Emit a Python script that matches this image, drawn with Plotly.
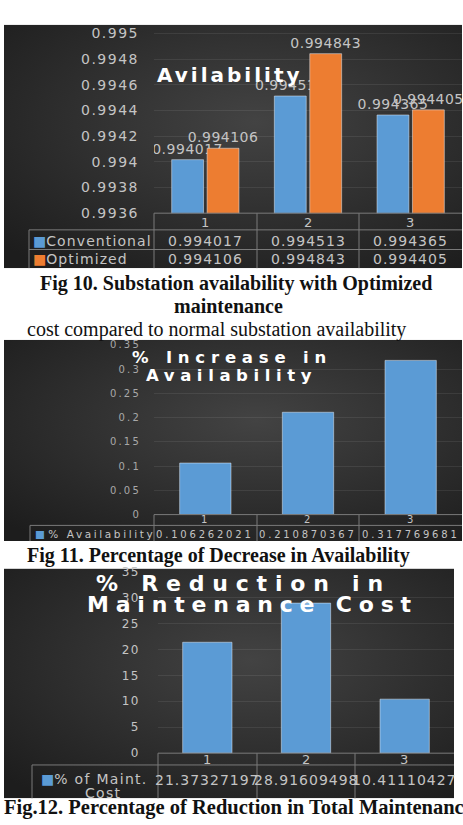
import base64
import plotly.graph_objects as go

W, H = 463, 825

# ---------------- data ----------------
CATEGORIES = ["1", "2", "3"]
SERIES_NAMES = ["Conventional", "Optimized"]
CONVENTIONAL = [0.994017, 0.994513, 0.994365]
OPTIMIZED = [0.994106, 0.994843, 0.994405]
INC_NAME = "% Availability"
AVAIL_INCREASE = [0.106262021, 0.210870367, 0.317769681]
COST_NAME = ["% of Maint.", "Cost"]
COST_REDUCTION = [21.37327197, 28.91609498, 10.41110427]

AVAIL_TICKS = [0.9936, 0.9938, 0.994, 0.9942, 0.9944, 0.9946, 0.9948, 0.995]
AVAIL_TICK_LABELS = ["0.9936", "0.9938", "0.994", "0.9942", "0.9944", "0.9946", "0.9948", "0.995"]
INC_TICKS = [0, 0.05, 0.1, 0.15, 0.2, 0.25, 0.3, 0.35]
INC_TICK_LABELS = ["0", "0.05", "0.1", "0.15", "0.2", "0.25", "0.3", "0.35"]
COST_TICKS = [0, 5, 10, 15, 20, 25, 30, 35]
COST_TICK_LABELS = ["0", "5", "10", "15", "20", "25", "30", "35"]

TITLE_1 = "Avilability"
TITLE_2 = ["% Increase in", "Availability"]
TITLE_3 = ["% Reduction in", "Maintenance Cost"]
CAPTION_10 = ["Fig 10. Substation availability with Optimized", "maintenance"]
BODY_LINE = "cost compared to normal substation availability"
CAPTION_11 = "Fig 11. Percentage of Decrease in Availability"
CAPTION_12 = "Fig.12. Percentage of Reduction in Total Maintenance"

# ---------------- style ----------------
BLUE = "#5b9bd5"
ORANGE = "#ed7d31"
TXT = "#c4c4c4"
TXT2 = "#a8a8a8"
GRID = "rgba(255,255,255,0.08)"
LINE = "#7a7a7a"
SANS = "DejaVu Sans"
SERIF = "Liberation Serif"


def px(x):
    return x / W


def py(y):
    return 1 - y / H


def sp(text, ls):
    return f'<span style="letter-spacing:{ls}px">{text}</span>'


def panel_image(x0, y0, x1, y1):
    svg = ("<svg xmlns='http://www.w3.org/2000/svg' viewBox='0 0 100 100' preserveAspectRatio='none'>"
           "<defs><radialGradient id='g' cx='55%' cy='40%' r='75%'>"
           "<stop offset='0' stop-color='#434343'/><stop offset='1' stop-color='#1d1d1d'/>"
           "</radialGradient></defs><rect width='100' height='100' fill='url(#g)'/></svg>")
    src = "data:image/svg+xml;base64," + base64.b64encode(svg.encode()).decode()
    return dict(source=src, xref="paper", yref="paper", x=px(x0), y=py(y0),
                sizex=(x1 - x0) / W, sizey=(y1 - y0) / H, sizing="stretch",
                xanchor="left", yanchor="top", layer="below")


fig = go.Figure()

# chart 1 bars
fig.add_bar(x=CATEGORIES, y=CONVENTIONAL, name=SERIES_NAMES[0], marker_color=BLUE,
            text=[sp(str(v), 0.5) for v in CONVENTIONAL], textposition="outside",
            textfont=dict(family=SANS, size=14, color=TXT), constraintext="none",
            xaxis="x", yaxis="y")
fig.add_bar(x=CATEGORIES, y=OPTIMIZED, name=SERIES_NAMES[1], marker_color=ORANGE,
            text=[sp(str(v), 0.5) for v in OPTIMIZED], textposition="outside",
            textfont=dict(family=SANS, size=14, color=TXT), constraintext="none",
            xaxis="x", yaxis="y")
# chart 2
fig.add_bar(x=CATEGORIES, y=AVAIL_INCREASE, name=INC_NAME, marker_color=BLUE, width=0.5,
            xaxis="x2", yaxis="y2")
# chart 3
fig.add_bar(x=CATEGORIES, y=COST_REDUCTION, name=" ".join(COST_NAME), marker_color=BLUE, width=0.5,
            xaxis="x3", yaxis="y3")


def xax(l, r, anchor):
    return dict(domain=[px(l), px(r)], anchor=anchor, type="category", range=[-0.5, 2.5],
                showticklabels=False, showgrid=False, zeroline=False, showline=False, ticks="")


def yax(bottom, top, rng, tv, tt, size, color, ls, standoff, anchor):
    return dict(domain=[py(bottom), py(top)], anchor=anchor, range=rng, tickvals=tv,
                ticktext=[sp(t, ls) for t in tt], tickfont=dict(family=SANS, size=size, color=color),
                showgrid=True, gridcolor=GRID, gridwidth=1, zeroline=False, showline=False,
                ticks="", ticklabelstandoff=standoff)


s1 = (210 - 27) / (0.995 - 0.9936)
top1 = 0.99506
fig.update_layout(
    xaxis=xax(154, 462, "y"),
    yaxis=yax(210, 210 - (top1 - 0.9936) * s1, [0.9936, top1], AVAIL_TICKS, AVAIL_TICK_LABELS,
              14, TXT, 1.5, 14, "x"),
    xaxis2=xax(154, 462, "y2"),
    yaxis2=yax(517, 344, [0, 0.35], INC_TICKS, INC_TICK_LABELS, 10, TXT2, 2.2, 12, "x2"),
    xaxis3=xax(158, 454, "y3"),
    yaxis3=yax(760, 575, [0, 35], COST_TICKS, COST_TICK_LABELS, 12, TXT, 1.5, 17, "x3"),
)

images = [panel_image(4, 18, 462, 266), panel_image(4, 339, 462, 544), panel_image(4, 572, 454, 806)]

shapes = []
ann = []


def hline(x0, x1, y):
    shapes.append(dict(type="line", xref="paper", yref="paper", x0=px(x0), x1=px(x1),
                       y0=py(y), y1=py(y), line=dict(color=LINE, width=1)))


def vline(x, y0, y1):
    shapes.append(dict(type="line", xref="paper", yref="paper", x0=px(x), x1=px(x),
                       y0=py(y0), y1=py(y1), line=dict(color=LINE, width=1)))


def text(x, y, t, size, color=TXT, family=SANS, xanchor="center", xref="paper"):
    ann.append(dict(x=px(x) if xref == "paper" else x, xref=xref, y=py(y), yref="paper",
                    text=t, showarrow=False, xanchor=xanchor, yanchor="middle",
                    font=dict(family=family, size=size, color=color)))


# ---- chart 1 table ----
hline(154, 462, 210)
hline(29, 462, 227)
hline(29, 462, 247)
for xv in (154, 257, 359):
    vline(xv, 210, 266)
vline(29, 227, 266)
for i, c in enumerate(CATEGORIES):
    text(i, 219, sp(c, 1), 13, xref="x")
text(31, 238, f'<span style="color:{BLUE}">■</span>' + sp(SERIES_NAMES[0], 1.1), 14, xanchor="left")
text(31, 257, f'<span style="color:{ORANGE}">■</span>' + sp(SERIES_NAMES[1], 1.1), 14, xanchor="left")
for i, v in enumerate(CONVENTIONAL):
    text(i, 238, sp(str(v), 1), 14, xref="x")
for i, v in enumerate(OPTIMIZED):
    text(i, 257, sp(str(v), 1), 14, xref="x")
text(230, 69, "<b>" + sp(TITLE_1, 3) + "</b>", 20, color="#ffffff")

# ---- chart 2 table ----
hline(154, 462, 517)
hline(30, 462, 528)
for xv in (154, 257, 359):
    vline(xv, 517, 544)
vline(30, 528, 544)
for i, c in enumerate(CATEGORIES):
    text(i, 522, sp(c, 2), 10, xref="x2")
text(33, 537, f'<span style="color:{BLUE}">■</span> ' + sp(INC_NAME, 2.6), 10.5, xanchor="left")
for i, v in enumerate(AVAIL_INCREASE):
    text(i, 537, sp(str(v), 2.8), 10, xref="x2")
text(232, 357, "<b>" + sp(TITLE_2[0], 5.8) + "</b>", 16.5, color="#ffffff")
text(231, 375, "<b>" + sp(TITLE_2[1], 5.6) + "</b>", 16.5, color="#ffffff")

# ---- chart 3 table ----
hline(158, 454, 760)
hline(32, 454, 772)
for xv in (158, 257, 355):
    vline(xv, 760, 806)
vline(32, 772, 806)
for i, c in enumerate(CATEGORIES):
    text(i, 766, sp(c, 1), 13, xref="x3")
text(94, 786, f'<span style="color:{BLUE}">■</span>' + sp(COST_NAME[0], 1.3), 14)
text(103, 801, sp(COST_NAME[1], 1.3), 14)
for i, v in enumerate(COST_REDUCTION):
    text(i, 787, sp(str(v), 1), 14, xref="x3")
text(243, 587, "<b>" + sp(TITLE_3[0], 7.8) + "</b>", 22, color="#ffffff")
text(252, 609, "<b>" + sp(TITLE_3[1], 6.8) + "</b>", 22, color="#ffffff")

# ---- captions ----
text(236, 282, "<b>" + CAPTION_10[0] + "</b>", 20, color="#111111", family=SERIF)
text(228, 305, "<b>" + CAPTION_10[1] + "</b>", 20, color="#111111", family=SERIF)
text(25, 328, BODY_LINE, 20, color="#111111", family=SERIF, xanchor="left")
text(25, 559, "<b>" + CAPTION_11 + "</b>", 20, color="#111111", family=SERIF, xanchor="left")
text(2, 815, "<b>" + CAPTION_12 + "</b>", 20.5, color="#111111", family=SERIF, xanchor="left")

fig.update_layout(
    width=W, height=H, margin=dict(l=0, r=0, t=0, b=0),
    paper_bgcolor="#ffffff", plot_bgcolor="rgba(0,0,0,0)",
    barmode="group", bargap=0.31, bargroupgap=0.1, showlegend=False,
    images=images, shapes=shapes, annotations=ann,
)

fig.write_html("out.html", config={"displayModeBar": False})
